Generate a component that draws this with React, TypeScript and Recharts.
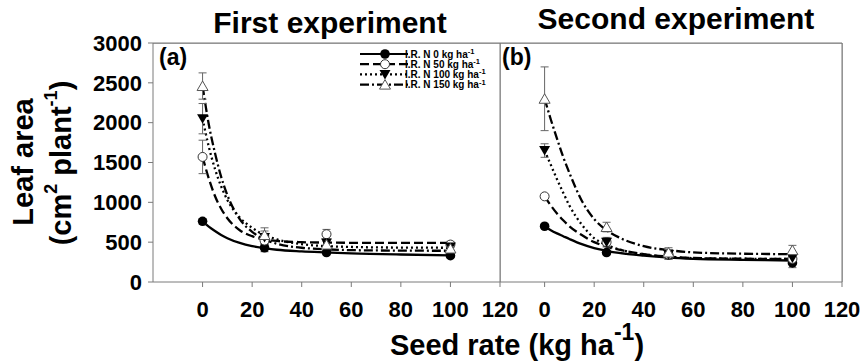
import React from "react";
import { ComposedChart, Line, Scatter, XAxis, YAxis, ErrorBar } from "recharts";

const FONT = '"Liberation Sans", Arial, sans-serif';
const AXIS = "#7a7a7a";

const seedRates = [0, 25, 50, 100];
const fitRates = [0, 2.5, 5, 7.5, 10, 15, 20, 25, 30, 40, 50, 60, 80, 100];
const xTicks = [0, 20, 40, 60, 80, 100, 120];
const yTicks = [0, 500, 1000, 1500, 2000, 2500, 3000];
const seriesNames = ["I.R. N 0 kg ha", "I.R. N 50 kg ha", "I.R. N 100 kg ha", "I.R. N 150 kg ha"];
const dashes = [undefined, "9 4", "2 3", "9 3 2 3"];
const markers = ["filledCircle", "openCircle", "filledDown", "openUp"];

// first experiment - observed means and errors
const firstN0 = [762, 430, 370, 330];
const firstN0Err = [35, 50, 20, 25];
const firstN50 = [1570, 520, 600, 470];
const firstN50Err = [210, 90, 60, 40];
const firstN100 = [2050, 560, 490, 440];
const firstN100Err = [190, 80, 50, 40];
const firstN150 = [2460, 590, 470, 420];
const firstN150Err = [165, 90, 40, 40];

// first experiment - fitted curves
const firstFit0 = [760, 695, 640, 590, 550, 490, 450, 425, 405, 385, 372, 360, 345, 335];
const firstFit50 = [1570, 1300, 1080, 920, 800, 650, 575, 535, 515, 500, 495, 492, 490, 490];
const firstFit100 = [2050, 1700, 1420, 1200, 1030, 810, 680, 590, 535, 475, 450, 440, 432, 430];
const firstFit150 = [2460, 1980, 1620, 1320, 1090, 790, 630, 535, 480, 430, 410, 400, 394, 392];

// second experiment - observed means and errors
const secondN0 = [700, 370, 340, 240];
const secondN0Err = [25, 25, 40, 60];
const secondN50 = [1075, 500, 345, 290];
const secondN50Err = [25, 40, 60, 50];
const secondN100 = [1650, 500, 345, 300];
const secondN100Err = [85, 60, 60, 50];
const secondN150 = [2300, 690, 370, 400];
const secondN150Err = [400, 60, 60, 60];

// second experiment - fitted curves
const secondFit0 = [700, 650, 610, 575, 540, 475, 425, 392, 365, 330, 305, 290, 278, 270];
const secondFit50 = [1075, 960, 860, 775, 700, 590, 500, 445, 405, 350, 318, 302, 292, 290];
const secondFit100 = [1650, 1470, 1290, 1120, 960, 720, 550, 465, 410, 345, 315, 300, 292, 290];
const secondFit150 = [2300, 2040, 1800, 1570, 1370, 1020, 790, 650, 560, 450, 400, 372, 355, 350];

// plot boxes (page pixels)
const TOP = 43;
const BOTTOM = 282;
const A_LEFT = 153;
const DIVIDER = 500;
const B_RIGHT = 842;

const toRows = (xs: number[], ys: number[], errs?: number[]) =>
  xs.map((x, i) => ({ x, y: ys[i], err: errs ? errs[i] : 0 }));

function Marker({ kind, cx, cy }: { kind: string; cx: number; cy: number }) {
  if (cx == null || cy == null) return null;
  if (kind === "filledCircle") return <circle cx={cx} cy={cy} r={4.8} fill="#000" />;
  if (kind === "openCircle")
    return <circle cx={cx} cy={cy} r={4.5} fill="#fff" stroke="#333" strokeWidth={1} />;
  if (kind === "filledDown")
    return <polygon points={`${cx - 5.5},${cy - 4.5} ${cx + 5.5},${cy - 4.5} ${cx},${cy + 5}`} fill="#000" />;
  return (
    <polygon
      points={`${cx - 5.5},${cy + 4.5} ${cx + 5.5},${cy + 4.5} ${cx},${cy - 5}`}
      fill="#fff"
      stroke="#555"
      strokeWidth={1}
    />
  );
}

const tickStyle = { fill: "#000", fontSize: 22, fontWeight: 700, fontFamily: FONT };

function Panel({
  fits,
  obs,
  errs,
  domain,
  width,
  margin,
  first,
}: {
  fits: number[][];
  obs: number[][];
  errs: number[][];
  domain: [number, number];
  width: number;
  margin: { top: number; right: number; bottom: number; left: number };
  first: boolean;
}) {
  return (
    <ComposedChart width={width} height={361} margin={margin}>
      <XAxis
        dataKey="x"
        type="number"
        domain={domain}
        ticks={xTicks}
        allowDataOverflow
        height={40}
        tickSize={5}
        tickMargin={14}
        axisLine={{ stroke: AXIS }}
        tickLine={{ stroke: AXIS }}
        tick={tickStyle}
        interval={0}
      />
      {first ? (
        <YAxis
          type="number"
          domain={[0, 3000]}
          ticks={yTicks}
          width={A_LEFT}
          tickSize={5}
          tickMargin={6}
          axisLine={{ stroke: AXIS }}
          tickLine={{ stroke: AXIS }}
          tick={tickStyle}
          interval={0}
        />
      ) : (
        <YAxis
          type="number"
          orientation="right"
          mirror
          domain={[0, 3000]}
          ticks={yTicks}
          width={0}
          tick={false}
          tickSize={4}
          axisLine={{ stroke: AXIS }}
          tickLine={{ stroke: AXIS }}
        />
      )}
      {fits.map((f, i) => (
        <Line
          key={`fit${i}`}
          data={toRows(fitRates, f)}
          dataKey="y"
          type="monotone"
          stroke="#000"
          strokeWidth={2.3}
          strokeDasharray={dashes[i]}
          dot={false}
          activeDot={false}
          isAnimationActive={false}
        />
      ))}
      {obs.map((o, i) => (
        <Scatter
          key={`obs${i}`}
          data={toRows(seedRates, o, errs[i])}
          dataKey="y"
          isAnimationActive={false}
          shape={(p: any) => <Marker kind={markers[i]} cx={p.cx} cy={p.cy} />}
        >
          <ErrorBar dataKey="err" direction="y" width={4} stroke="#666" strokeWidth={1} isAnimationActive={false} />
        </Scatter>
      ))}
    </ComposedChart>
  );
}

function LegendRow({ i, y }: { i: number; y: number }) {
  return (
    <g>
      <line x1={360} x2={408} y1={y} y2={y} stroke="#000" strokeWidth={2.2} strokeDasharray={dashes[i]} />
      <Marker kind={markers[i]} cx={385} cy={y} />
      <text x={405} y={y + 3.5} fontSize={10} fontWeight={700} fontFamily={FONT} fill="#000">
        {seriesNames[i]}
        <tspan dy={-3.5} fontSize={7.5}>-1</tspan>
      </text>
    </g>
  );
}

export default function App() {
  return (
    <div style={{ position: "absolute", left: 0, top: 0, width: 863, height: 361, background: "#fff", overflow: "hidden" }}>
      <div style={{ position: "absolute", left: 0, top: 0 }}>
        <Panel
          first
          width={530}
          domain={[-20, 120]}
          margin={{ top: TOP, right: 530 - DIVIDER, bottom: 361 - BOTTOM - 40, left: 0 }}
          fits={[firstFit0, firstFit50, firstFit100, firstFit150]}
          obs={[firstN0, firstN50, firstN100, firstN150]}
          errs={[firstN0Err, firstN50Err, firstN100Err, firstN150Err]}
        />
      </div>
      <div style={{ position: "absolute", left: 480, top: 0 }}>
        <Panel
          first={false}
          width={383}
          domain={[-18, 120]}
          margin={{ top: TOP, right: 863 - B_RIGHT, bottom: 361 - BOTTOM - 40, left: DIVIDER - 480 }}
          fits={[secondFit0, secondFit50, secondFit100, secondFit150]}
          obs={[secondN0, secondN50, secondN100, secondN150]}
          errs={[secondN0Err, secondN50Err, secondN100Err, secondN150Err]}
        />
      </div>
      <svg width={863} height={361} style={{ position: "absolute", left: 0, top: 0, pointerEvents: "none" }}>
        {/* frame: top edge, panel divider, right edge */}
        <rect x={A_LEFT} y={TOP - 0.5} width={B_RIGHT - A_LEFT} height={1.3} fill={AXIS} />
        <rect x={DIVIDER - 0.5} y={TOP} width={1.3} height={BOTTOM - TOP} fill={AXIS} />
        <rect x={B_RIGHT - 0.5} y={TOP} width={1.3} height={BOTTOM - TOP} fill={AXIS} />
        <g fontFamily={FONT} fontWeight={700} fill="#000">
          <text x={330} y={33} fontSize={30} textAnchor="middle">First experiment</text>
          <text x={676} y={29} fontSize={30} textAnchor="middle">Second experiment</text>
          <text x={159} y={65} fontSize={23}>(a)</text>
          <text x={502} y={65} fontSize={23}>(b)</text>
          <text transform="translate(33,162) rotate(-90)" fontSize={29} textAnchor="middle">Leaf area</text>
          <text transform="translate(71,163) rotate(-90)" fontSize={29} textAnchor="middle">
            (cm<tspan dy={-14} fontSize={18}>2</tspan>
            <tspan dy={14}> plant</tspan>
            <tspan dy={-14} fontSize={18}>-1</tspan>
            <tspan dy={14}>)</tspan>
          </text>
          <text x={517} y={355} fontSize={29} textAnchor="middle">
            Seed rate (kg ha<tspan dy={-15} fontSize={23}>-1</tspan>
            <tspan dy={15}>)</tspan>
          </text>
        </g>
        {seriesNames.map((_, i) => (
          <LegendRow key={i} i={i} y={54 + i * 10.2} />
        ))}
      </svg>
    </div>
  );
}
